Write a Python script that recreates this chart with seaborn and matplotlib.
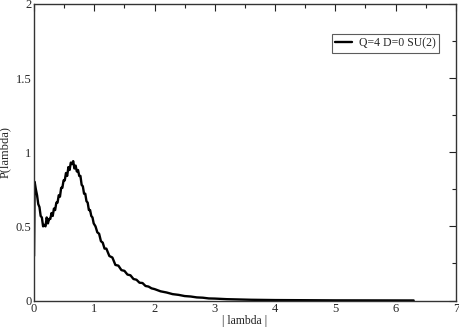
import matplotlib
matplotlib.use("Agg")
import matplotlib.pyplot as plt
from matplotlib.ticker import MultipleLocator, FormatStrFormatter
import seaborn as sns
import pandas as pd

series_name = "Q=4 D=0 SU(2)"
lam = [0.0, 0.01, 0.03, 0.05, 0.07, 0.09, 0.11, 0.13, 0.15, 0.17, 0.19, 0.21, 0.23,
       0.25, 0.27, 0.29, 0.31, 0.33, 0.35, 0.37, 0.39, 0.41, 0.43, 0.45, 0.47, 0.49,
       0.51, 0.53, 0.55, 0.57, 0.59, 0.61, 0.63, 0.65, 0.67, 0.69, 0.71, 0.73, 0.75,
       0.77, 0.79, 0.81, 0.83, 0.85, 0.87, 0.89, 0.91, 0.93, 0.95, 0.97, 0.99, 1.02,
       1.05, 1.08, 1.11, 1.14, 1.17, 1.20, 1.25, 1.30, 1.35, 1.40, 1.45, 1.50, 1.55,
       1.60, 1.65, 1.70, 1.75, 1.80, 1.85, 1.90, 1.95, 2.00, 2.10, 2.20, 2.30, 2.40,
       2.50, 2.60, 2.70, 2.80, 2.90, 3.00, 3.20, 3.40, 3.60, 3.80, 4.00, 4.50, 5.00,
       5.50, 6.00, 6.30]
p_lam = [0.30, 0.80, 0.75, 0.71, 0.65, 0.63, 0.57, 0.56, 0.50, 0.51, 0.50, 0.56, 0.52,
         0.55, 0.55, 0.59, 0.57, 0.62, 0.61, 0.66, 0.66, 0.71, 0.70, 0.76, 0.76, 0.81,
         0.81, 0.86, 0.84, 0.90, 0.88, 0.93, 0.92, 0.94, 0.89, 0.91, 0.87, 0.88, 0.84,
         0.84, 0.78, 0.77, 0.72, 0.72, 0.67, 0.66, 0.61, 0.61, 0.57, 0.56, 0.52, 0.50,
         0.46, 0.45, 0.40, 0.39, 0.35, 0.35, 0.30, 0.29, 0.24, 0.235, 0.205, 0.20, 0.175,
         0.17, 0.145, 0.14, 0.12, 0.118, 0.098, 0.094, 0.082, 0.077, 0.062, 0.054, 0.043,
         0.038, 0.030, 0.027, 0.021, 0.019, 0.014, 0.013, 0.009, 0.007, 0.005, 0.004,
         0.003, 0.002, 0.001, 0.0008, 0.0005, 0.0003]

df = pd.DataFrame({"lambda": lam, "P": p_lam, "series": series_name})

sns.set_style("white")
plt.rcParams["font.family"] = ["Liberation Serif", "DejaVu Serif"]

fig = plt.figure(figsize=(4.6, 3.27), dpi=100)
ax = fig.add_axes([0.074, 0.081, 0.917, 0.907])

sns.lineplot(data=df, x="lambda", y="P", hue="series", palette=["black"],
             linewidth=1.7, ax=ax, sort=False)

ax.set_xlim(0, 7)
ax.set_ylim(0, 2)
ax.xaxis.set_major_locator(MultipleLocator(1))
ax.xaxis.set_minor_locator(MultipleLocator(0.5))
ax.yaxis.set_major_locator(MultipleLocator(0.5))
ax.yaxis.set_minor_locator(MultipleLocator(0.25))
ax.xaxis.set_major_formatter(FormatStrFormatter("%g"))
ax.yaxis.set_major_formatter(FormatStrFormatter("%g"))
ax.tick_params(which="both", direction="in", top=True, right=True,
               labelsize=9, color="#222222", pad=2)
ax.tick_params(which="major", length=5, width=0.8)
ax.tick_params(which="minor", length=3, width=0.8)
for s in ax.spines.values():
    s.set_color("#333333")
    s.set_linewidth(1.0)

ax.set_xlabel("| lambda |", fontsize=8.5, labelpad=0)
ax.xaxis.set_label_coords(0.5, -0.05)
ax.set_ylabel("P(lambda)", fontsize=9, labelpad=3)

leg = ax.legend(loc="upper right", bbox_to_anchor=(0.96, 0.899), fontsize=8.5,
                frameon=True, fancybox=False, edgecolor="#333333", handlelength=1.4,
                handletextpad=0.6, borderpad=0.3, borderaxespad=0.0)
leg.get_frame().set_linewidth(0.8)
for h in leg.get_lines():
    h.set_linewidth(1.7)

fig.savefig("out.png", dpi=100)
